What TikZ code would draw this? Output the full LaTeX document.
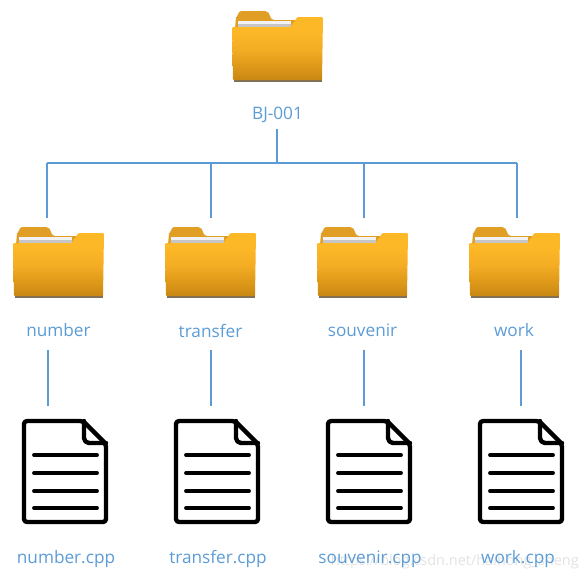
\documentclass[tikz,border=0pt]{standalone}
\usepackage{fontspec}
\setmainfont{Open Sans}
\usetikzlibrary{calc}
\definecolor{LabelBlue}{rgb}{0.36, 0.61, 0.84}
\definecolor{FolderTab}{rgb}{0.88, 0.62, 0.14}
\definecolor{FolderEdge}{rgb}{0.50, 0.44, 0.34}
\definecolor{FolderA}{rgb}{0.78, 0.53, 0.07}
\definecolor{FolderB}{rgb}{0.87, 0.60, 0.10}
\definecolor{FolderC}{rgb}{0.96, 0.68, 0.14}
\definecolor{FolderD}{rgb}{0.99, 0.72, 0.15}
\pgfdeclareverticalshading{folderfront}{100bp}{
    color(0bp)=(FolderA);
    color(25bp)=(FolderA);
    color(36bp)=(FolderB);
    color(50bp)=(FolderC);
    color(64bp)=(FolderD);
    color(100bp)=(FolderD)}
\tikzset{
    wire/.style={draw=LabelBlue, line width=1.3pt},
    label/.style={text=LabelBlue, font=\fontsize{17.2}{19}\selectfont, inner sep=0pt},
    iconbox/.style={inner sep=0pt, anchor=north west},
    docline/.style={line width=3.8pt, line cap=round, line join=round},
}
\newcommand{\folder}[3]{% nombre, x, y
    \begin{scope}[shift={(#2,#3)}]
    \fill[FolderTab] (3,18) -- (4,6) to[out=-80,in=180] (9,0) -- (33,0)
        to[out=0,in=105] (38,5) to[out=-75,in=180] (42,9) -- (64,9) -- (64,18) -- cycle;
    \fill[gray!45!white] (6,10) rectangle (59,16);
    \fill[white!95!black] (6,10) rectangle (59,12.5);
    \fill[FolderEdge] (1.5,67) rectangle (89.5,70.5);
    \shade[shading=folderfront, rounded corners=1pt]
        (0,16) -- (57,16) to[out=0,in=-135] (62,11) to[out=45,in=180] (67,6)
        -- (91,6) -- (90,69) -- (1,69) -- cycle;
    \node[iconbox, minimum width=91pt, minimum height=71pt] (#1) at (0,0) {};
    \end{scope}
}
\newcommand{\sheet}[3]{% nombre, x, y
    \begin{scope}[shift={(#2,#3)}]
    \draw[docline, line width=4.4pt, fill=white, rounded corners=3pt] (2,2) -- (61,2) -- (84,25) -- (84,103) -- (2,103) -- cycle;
    \draw[docline, line width=4.4pt] (62,2) -- (62,19) to[out=-90,in=180] (67,24) -- (84,24);
    \foreach \ly in {36,54,72,89} {
        \draw[docline] (12,\ly) -- (75,\ly);
    }
    \node[iconbox, minimum width=86pt, minimum height=105pt] (#1) at (0,0) {};
    \end{scope}
}

\begin{document}
\begin{tikzpicture}[x=1pt, y=-1pt]
\useasboundingbox (0,0) rectangle (586,579);

% carpeta raiz
\folder{rootfolder}{232}{11}
\node[label] (rootlabel) at (277.5,114.5) {BJ-001};

% carpetas
\folder{numberfolder}{13}{227}
\folder{transferfolder}{165}{227}
\folder{souvenirfolder}{317}{227}
\folder{workfolder}{469}{227}

\node[label] (numberlabel) at (58.5,330.5) {number};
\node[label] (transferlabel) at (210.5,330.5) {transfer};
\node[label] (souvenirlabel) at (362.5,330.5) {souvenir};
\node[label] (worklabel) at (514,330.5) {work};

% archivos
\sheet{numbersheet}{22}{419}
\sheet{transfersheet}{174}{419}
\sheet{souvenirsheet}{326}{419}
\sheet{worksheet}{478}{419}

\node[text=gray!22, font=\fontsize{14.5}{16}\selectfont, inner sep=0pt, anchor=east] (watermark) at (579,562) {https://blog.csdn.net/haihong\_sheng};

\node[label] (numbercpp) at (66,559) {number.cpp};
\node[label] (transfercpp) at (218,559) {transfer.cpp};
\node[label] (souvenircpp) at (370,559) {souvenir.cpp};
\node[label] (workcpp) at (518,559) {work.cpp};

% conectores
\coordinate (busnumber) at (47,163);
\coordinate (bustransfer) at (211,163);
\coordinate (bussouvenir) at (364,163);
\coordinate (buswork) at (517,163);
\coordinate (busroot) at (277,163);

\draw[wire] ($(rootlabel.south)+(-0.5,6)$) -- (busroot);
\draw[wire] (busnumber) -- (buswork);
\foreach \name in {number,transfer,souvenir,work} {
    \draw[wire, shorten >=9pt] (bus\name) -- (bus\name |- \name folder.north);
}

\coordinate (lownumber) at (48,350);
\coordinate (lowtransfer) at (211,350);
\coordinate (lowsouvenir) at (364,350);
\coordinate (lowwork) at (521,350);
\foreach \name in {number,transfer,souvenir,work} {
    \draw[wire, shorten >=13pt] (low\name) -- (low\name |- \name sheet.north);
}

\end{tikzpicture}
\end{document}
